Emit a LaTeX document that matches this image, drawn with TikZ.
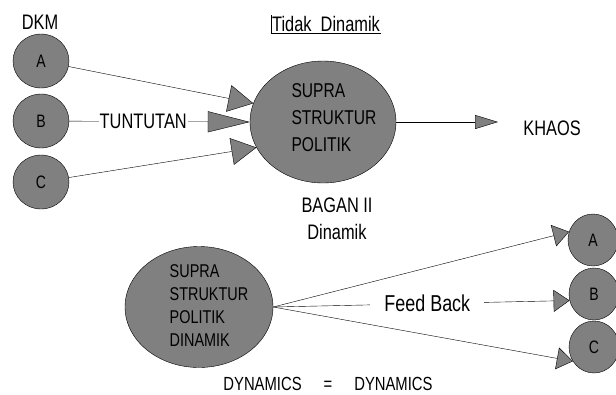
\documentclass[tikz,border=0pt]{standalone}
\usepackage{fontspec}
\setmainfont{Liberation Sans}[FakeStretch=0.78]
\usetikzlibrary{arrows.meta,shapes.geometric}
\newcommand{\ukuran}[1]{\fontsize{#1}{1.2\dimexpr#1pt\relax}\selectfont}
\tikzset{
  bola/.style={ellipse,draw,fill=gray,inner sep=0pt,minimum width=56pt,minimum height=54pt,font=\ukuran{18}},
  bolakecil/.style={bola,minimum width=50pt,minimum height=52pt},
  tipbesar/.style={-{Triangle[length=25pt,width=27pt,fill=gray]}},
  tippanjang/.style={-{Triangle[length=42pt,width=21pt,fill=gray]}},
  tipkecil/.style={-{Triangle[length=23pt,width=14pt,fill=gray]}},
  tipbalik/.style={-{Triangle[length=16pt,width=22pt,fill=gray]}}
}
\begin{document}
\begin{tikzpicture}[x=1pt,y=-1pt,font=\ukuran{21},line join=round]
	\useasboundingbox (0,0) rectangle (616,394);
	% bagan I
	\node (dkm) at (40,22) {DKM};
	\node[bola] (a) at (41,61) {A};
	\node[bola] (b) at (41,121) {B};
	\node[bola] (c) at (41,182) {C};
	\node[bola,minimum width=146pt,minimum height=122pt] (supra) at (323,122) {};
	\node[align=left,font=\fontsize{20}{27}\selectfont] (supratxt) at (334,118) {SUPRA\\STRUKTUR\\POLITIK};
	\node[inner sep=1pt] (tidak) at (326,24) {Tidak\ \ Dinamik};
	\draw (tidak.south west) -- (tidak.south east) (tidak.south west) -- (tidak.north west);
	\draw[tipbesar] (a) -- (supra.165);
	\draw[tipbesar] (c) -- (supra.201);
	\draw[tippanjang] (b) -- node[pos=0.41,fill=white,inner sep=1pt] (tuntutan) {TUNTUTAN} (supra.180);
	\coordinate (khaosujung) at (498,122);
	\draw[tipkecil] (supra) -- (khaosujung);
	\node (khaos) at (552,128) {KHAOS};
	% bagan II
	\node (bagan) at (337,205) {BAGAN II};
	\node (dinamik) at (337,232) {Dinamik};
	\node[bola,minimum width=148pt,minimum height=121pt] (supra2) at (199,307) {};
	\node[align=left,font=\fontsize{18.5}{23}\selectfont] (supra2txt) at (209,306) {SUPRA\\STRUKTUR\\POLITIK\\DINAMIK};
	\node[bolakecil] (a2) at (593,240) {A};
	\node[bolakecil] (b2) at (594,294) {B};
	\node[bolakecil] (c2) at (594,347) {C};
	\draw[tipbalik] (supra2.east) -- (a2.161);
	\draw[tipbalik] (supra2.east) -- node[pos=0.52,fill=white,inner xsep=14pt,font=\ukuran{23}] (feedback) {Feed Back} (b2.195);
	\draw[tipbalik] (supra2.east) -- (c2.214);
	\node[font=\ukuran{19}] (dyn) at (328,384) {DYNAMICS\hspace{22pt}=\hspace{22pt}DYNAMICS};
\end{tikzpicture}
\end{document}
